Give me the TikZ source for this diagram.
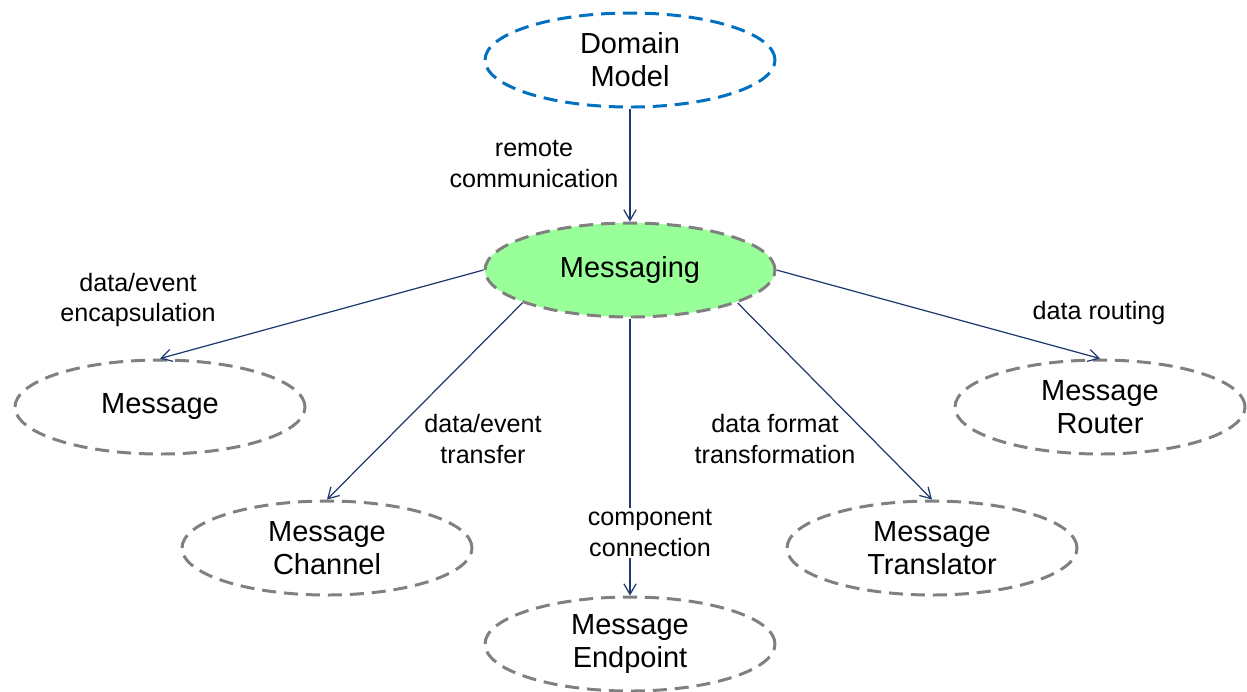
\documentclass[tikz,border=0pt]{standalone}
\usepackage{fontspec}
\setmainfont{Liberation Sans}
\usetikzlibrary{shapes.geometric,arrows.meta}
\definecolor{navy}{HTML}{1F3A6E}
\definecolor{dblue}{HTML}{0070C0}
\definecolor{dgray}{HTML}{808080}
\definecolor{lgreen}{HTML}{99FF99}
\begin{document}
\begin{tikzpicture}[x=0.02cm,y=-0.02cm,
  ell/.style={ellipse,draw=dgray,line width=1.7pt,dash pattern=on 8pt off 4.5pt,
    minimum width=290*0.02cm,minimum height=94*0.02cm,inner sep=0pt,align=center,
    font=\fontsize{16.5}{18.7}\selectfont},
  conn/.style={draw=navy,line width=0.7pt,-{Straight Barb[length=6pt,width=7pt]}},
  lbl/.style={align=center,font=\fontsize{14.3}{17.6}\selectfont,inner sep=1pt}]
\useasboundingbox (0,0) rectangle (1247,691);
\node[ell,draw=dblue] (dm) at (630,60) {Domain\\Model};
\node[ell,fill=lgreen] (msg) at (630,270) {Messaging};
\node[ell] (m) at (160,407) {Message};
\node[ell] (mc) at (327,548) {Message\\Channel};
\node[ell] (me) at (630,644) {Message\\Endpoint};
\node[ell] (mt) at (932,548) {Message\\Translator};
\node[ell] (mr) at (1100,407) {Message\\Router};
\draw[conn] (dm.south) -- (msg.north);
\draw[conn] (msg.west) -- (m.north);
\draw[conn] (msg.197) -- (mc.north);
\draw[conn] (msg.south) -- (me.north);
\draw[conn] (msg.-17) -- (mt.north);
\draw[conn] (msg.east) -- (mr.north);
\node[lbl] (l1) at (534,164) {remote\\communication};
\node[lbl] (l2) at (138,300) {data/event\\encapsulation};
\node[lbl] (l3) at (483,439) {data/event\\transfer};
\node[lbl,fill=white] (l4) at (650,533) {component\\connection};
\node[lbl] (l5) at (775,439) {data format\\transformation};
\node[lbl] (l6) at (1099,313) {data routing};
\end{tikzpicture}
\end{document}
